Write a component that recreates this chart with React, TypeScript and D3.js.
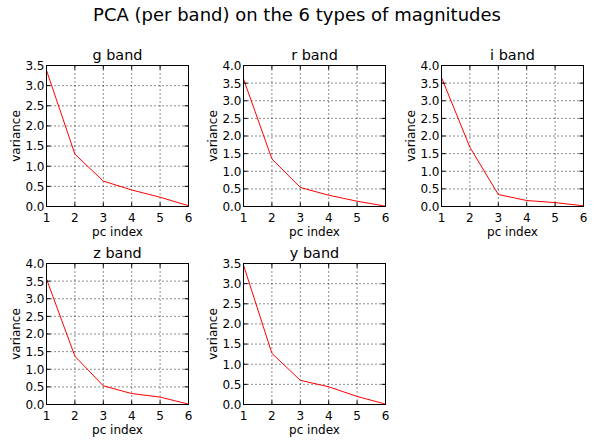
import React from "react";
import * as d3 from "d3";

const pcIndex = [1, 2, 3, 4, 5, 6];
const bands = ["g band", "r band", "i band", "z band", "y band"];
const gVariance = [3.38, 1.3, 0.63, 0.41, 0.23, 0.02];
const rVariance = [3.62, 1.35, 0.54, 0.32, 0.15, 0.01];
const iVariance = [3.66, 1.68, 0.34, 0.17, 0.11, 0.02];
const zVariance = [3.56, 1.37, 0.53, 0.31, 0.21, 0.01];
const yVariance = [3.46, 1.27, 0.6, 0.44, 0.2, 0.01];
const yMaxes = [3.5, 4.0, 4.0, 4.0, 3.5];
const xTicks = [1, 2, 3, 4, 5, 6];
const suptitle = "PCA (per band) on the 6 types of magnitudes";

const seriesList = [gVariance, rVariance, iVariance, zVariance, yVariance];

const W = 594;
const H = 441;
const FONT = "DejaVu Sans, Verdana, sans-serif";
const lefts = [46.5, 243.5, 441.5];
const tops = [65.5, 263.5];
const AW = 142;
const AH = 141;

function Panel({ idx }: { idx: number }) {
  const col = idx % 3;
  const row = Math.floor(idx / 3);
  const x0 = lefts[col];
  const y0 = tops[row];
  const x = d3.scaleLinear().domain([1, 6]).range([x0, x0 + AW]);
  const y = d3.scaleLinear().domain([0, yMaxes[idx]]).range([y0 + AH, y0]);
  const yTicks = d3.range(0, yMaxes[idx] + 0.001, 0.5);
  const fmt = d3.format(".1f");
  const data = seriesList[idx];
  const line = d3
    .line<number>()
    .x((_, i) => x(pcIndex[i]))
    .y((d) => y(d));
  const clipId = `clip${idx}`;
  const tl = 4;
  return (
    <g>
      <defs>
        <clipPath id={clipId}>
          <rect x={x0} y={y0} width={AW} height={AH} />
        </clipPath>
      </defs>
      <rect x={x0} y={y0} width={AW} height={AH} fill="#fff" />
      {/* grid */}
      {xTicks.map((t) => (
        <line
          key={"gx" + t}
          x1={x(t)}
          x2={x(t)}
          y1={y0}
          y2={y0 + AH}
          stroke="#000"
          strokeWidth={0.9}
          strokeDasharray="1,3"
        />
      ))}
      {yTicks.map((t) => (
        <line
          key={"gy" + t}
          x1={x0}
          x2={x0 + AW}
          y1={y(t)}
          y2={y(t)}
          stroke="#000"
          strokeWidth={0.9}
          strokeDasharray="1,3"
        />
      ))}
      {/* data line */}
      <path
        d={line(data) || ""}
        fill="none"
        stroke="#ff0000"
        strokeWidth={1}
        clipPath={`url(#${clipId})`}
      />
      {/* ticks */}
      {xTicks.map((t) => (
        <g key={"tx" + t}>
          <line x1={x(t)} x2={x(t)} y1={y0 + AH} y2={y0 + AH - tl} stroke="#000" strokeWidth={1} />
          <line x1={x(t)} x2={x(t)} y1={y0} y2={y0 + tl} stroke="#000" strokeWidth={1} />
          <text
            x={x(t)}
            y={y0 + AH + 15}
            textAnchor="middle"
            fontSize={12}
            fontFamily={FONT}
            fill="#000"
          >
            {t}
          </text>
        </g>
      ))}
      {yTicks.map((t) => (
        <g key={"ty" + t}>
          <line x1={x0} x2={x0 + tl} y1={y(t)} y2={y(t)} stroke="#000" strokeWidth={1} />
          <line x1={x0 + AW} x2={x0 + AW - tl} y1={y(t)} y2={y(t)} stroke="#000" strokeWidth={1} />
          <text
            x={x0 - 2}
            y={y(t) + 4.4}
            textAnchor="end"
            fontSize={12}
            fontFamily={FONT}
            fill="#000"
          >
            {fmt(t)}
          </text>
        </g>
      ))}
      {/* spines */}
      <rect x={x0} y={y0} width={AW} height={AH} fill="none" stroke="#000" strokeWidth={1} />
      {/* title */}
      <text
        x={x0 + AW / 2}
        y={y0 - 5.5}
        textAnchor="middle"
        fontSize={14.4}
        fontFamily={FONT}
        fill="#000"
      >
        {bands[idx]}
      </text>
      <text
        x={x0 + AW / 2}
        y={y0 + AH + 29}
        textAnchor="middle"
        fontSize={12}
        fontFamily={FONT}
        fill="#000"
      >
        pc index
      </text>
      <text
        transform={`translate(${x0 - 27},${y0 + AH / 2}) rotate(-90)`}
        textAnchor="middle"
        fontSize={12}
        fontFamily={FONT}
        fill="#000"
      >
        variance
      </text>
    </g>
  );
}

export default function App() {
  return (
    <svg
      width={W}
      height={H}
      viewBox={`0 0 ${W} ${H}`}
      style={{ position: "absolute", left: 0, top: 0, background: "#fff" }}
    >
      <rect x={0} y={0} width={W} height={H} fill="#fff" />
      <text
        x={W / 2}
        y={21}
        textAnchor="middle"
        fontSize={18}
        fontFamily={FONT}
        fill="#000"
      >
        {suptitle}
      </text>
      {bands.map((_, i) => (
        <Panel key={i} idx={i} />
      ))}
    </svg>
  );
}
